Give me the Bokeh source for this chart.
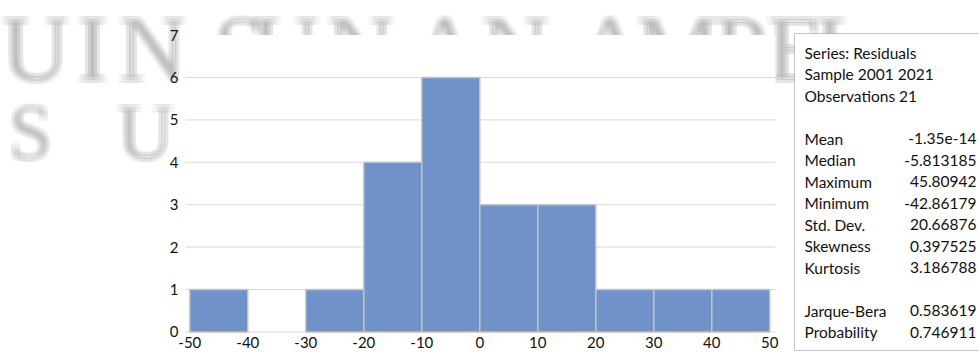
from bokeh.plotting import figure
from bokeh.models import (Range1d, FixedTicker, BoxAnnotation, Label,
                          LabelSet, ColumnDataSource)
from bokeh.embed import file_html
from bokeh.resources import INLINE

# Histogram of the regression residuals
bin_edges = [-50, -40, -30, -20, -10, 0, 10, 20, 30, 40, 50]
counts = [1, 0, 1, 4, 6, 3, 3, 1, 1, 1]
x_ticks = [-50, -40, -30, -20, -10, 0, 10, 20, 30, 40, 50]
y_ticks = [0, 1, 2, 3, 4, 5, 6, 7]

# Descriptive statistics panel
stat_names = ["Series: Residuals", "Sample 2001 2021", "Observations 21", "",
              "Mean", "Median", "Maximum", "Minimum", "Std. Dev.", "Skewness",
              "Kurtosis", "", "Jarque-Bera", "Probability"]
stat_values = ["", "", "", "",
               "-1.35e-14", "-5.813185", "45.80942", "-42.86179", "20.66876",
               "0.397525", "3.186788", "", "0.583619", "0.746911"]

# Background watermark lettering
wm_text = ["U", "I", "N", "S", "U", "N", "A", "N", "A", "M", "P", "E", "L", "S", "U"]

W, H = 979, 352
# plot-area edges in value space
X_LO, X_HI = -50.74, 50.98
Y_LO, Y_HI = 0, 7

# the frame spans the whole page; the data ranges are widened so the
# plot area sits where it would inside a chart window
px_per_x = 5.8
px_per_y = 42.4
x_start = -50 - 189.3 / px_per_x
y_start = 0 - (H - 331.4) / px_per_y
p = figure(width=W, height=H, output_backend="svg", toolbar_location=None,
           x_range=Range1d(x_start, x_start + W / px_per_x),
           y_range=Range1d(y_start, y_start + H / px_per_y),
           min_border=0, min_border_left=0, min_border_right=0,
           min_border_top=0, min_border_bottom=0)
p.outline_line_color = None
p.background_fill_color = "white"
p.border_fill_color = "white"
p.xgrid.visible = False
p.ygrid.visible = False

# page-pixel ranges for the decorations (y measured from the top)
p.extra_x_ranges = {"px": Range1d(0, W)}
p.extra_y_ranges = {"px": Range1d(H, 0)}

# watermark: letters drawn several times with small offsets for a soft edge
wm_x = [35, 92, 152, 240, 285, 360, 445, 515, 610, 677, 740, 795, 843, 30, 145]
wm_y = [79] * 13 + [157, 157]
wm_size = ["94px"] * 13 + ["78px", "78px"]
wm_src = ColumnDataSource(dict(x=wm_x, y=wm_y, text=wm_text, size=wm_size))
for dx in (-3, 0, 3):
    for dy in (-3, 0, 3):
        p.add_layout(LabelSet(x="x", y="y", text="text", source=wm_src,
                              x_range_name="px", y_range_name="px",
                              x_offset=dx, y_offset=dy,
                              text_font="Liberation Serif", text_font_size="size",
                              text_align="center", text_baseline="alphabetic",
                              text_color="#787878", text_alpha=0.065,
                              level="image"))

# white plot area laid over the watermark
p.add_layout(BoxAnnotation(left=X_LO, right=X_HI, bottom=Y_LO, top=Y_HI,
                           fill_color="white", fill_alpha=1.0, line_color=None,
                           level="underlay"))

# horizontal gridlines across the plot area
grid_y = y_ticks[:-1]
p.segment(x0=[X_LO] * len(grid_y), x1=[X_HI] * len(grid_y), y0=grid_y, y1=grid_y,
          line_color="#d9d9d9", line_width=1)

lefts = [bin_edges[i] for i in range(len(counts)) if counts[i] > 0]
rights = [bin_edges[i + 1] for i in range(len(counts)) if counts[i] > 0]
tops = [c for c in counts if c > 0]
p.quad(left=lefts, right=rights, top=tops, bottom=0,
       fill_color="#7092c9", line_color="#c4c4c4", line_width=1.5)

p.xaxis.fixed_location = Y_LO
p.yaxis.fixed_location = X_LO
for ax, ticks in ((p.xaxis, x_ticks), (p.yaxis, y_ticks)):
    ax.ticker = FixedTicker(ticks=ticks)
    ax.major_label_overrides = {t: str(t) for t in ticks}
    ax.axis_line_color = None
    ax.major_tick_line_color = None
    ax.minor_tick_line_color = None
    ax.major_tick_out = 0
    ax.major_tick_in = 0
    ax.major_label_text_font = "Lato"
    ax.major_label_text_font_size = "15px"
    ax.major_label_text_color = "#111111"
p.xaxis.major_label_standoff = 5
p.yaxis.major_label_standoff = 7

# statistics panel
p.add_layout(BoxAnnotation(left=794, right=1010, top=33, bottom=350,
                           x_range_name="px", y_range_name="px",
                           fill_color="white", fill_alpha=1.0,
                           line_color="#3a3a3a", line_width=1, level="annotation"))
row0, row_step = 52, 21.5
for i, (name, val) in enumerate(zip(stat_names, stat_values)):
    yy = row0 + i * row_step
    if name:
        p.add_layout(Label(x=804, y=yy, text=name, x_range_name="px", y_range_name="px",
                           text_font="Lato", text_font_size="15.5px", text_color="#111111",
                           text_baseline="middle", text_align="left", level="overlay"))
    if val:
        p.add_layout(Label(x=976, y=yy, text=val, x_range_name="px", y_range_name="px",
                           text_font="Lato", text_font_size="15.5px", text_color="#111111",
                           text_baseline="middle", text_align="right", level="overlay"))

open("out.html", "w").write(file_html(p, INLINE))
